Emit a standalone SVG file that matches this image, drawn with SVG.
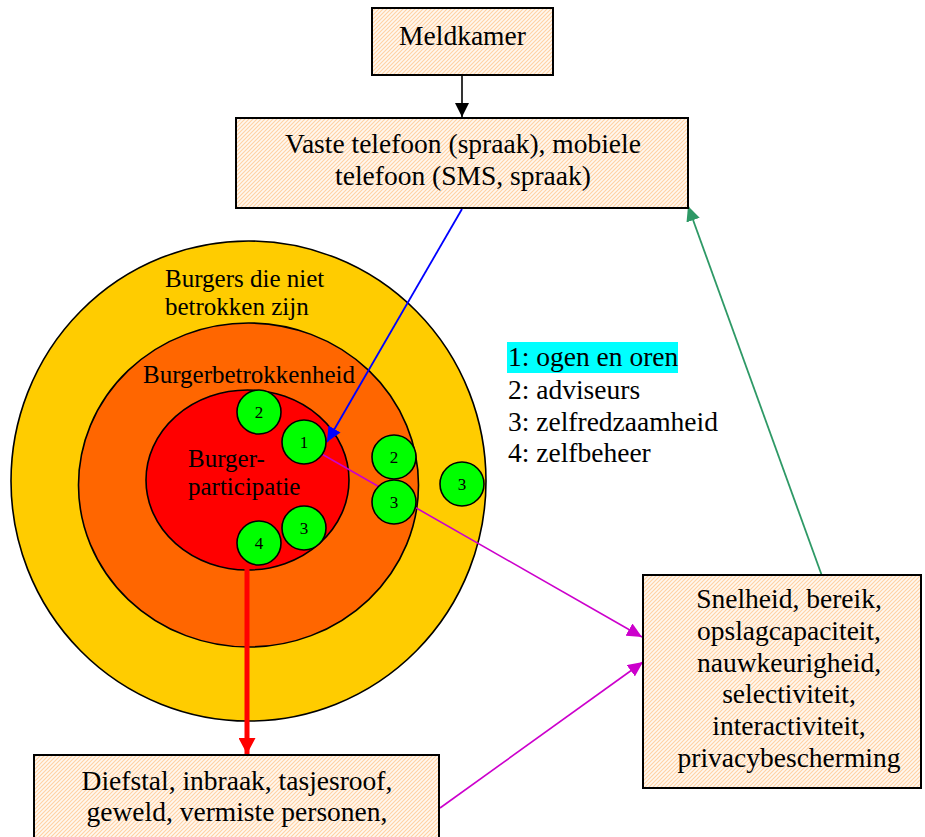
<svg xmlns="http://www.w3.org/2000/svg" width="925" height="837" viewBox="0 0 925 837">
  <style>
    .box { fill: url(#hatch); stroke: #000; stroke-width: 2; }
    .ring { stroke: #000; stroke-width: 1.6; }
    .dot { fill: #00ff00; stroke: #000; stroke-width: 1.6; }
    .t { font-family: "Liberation Serif", "Times New Roman", "DejaVu Serif", serif; fill: #000; }
    .bx { font-size: 27.5px; text-anchor: middle; }
    .lbl { font-size: 25px; }
    .leg { font-size: 27.5px; }
    .num { font-size: 17px; text-anchor: middle; }
    .conn { fill: none; }
  </style>
  <defs>
    <pattern id="hatch" patternUnits="userSpaceOnUse" width="4" height="4">
      <rect width="4" height="4" fill="#fff8f0"/>
      <path d="M-1,1 L1,-1 M0,4 L4,0 M3,5 L5,3" stroke="#ffd1a3" stroke-width="1.1"/>
    </pattern>
    <marker id="ahBlack" markerUnits="userSpaceOnUse" markerWidth="14" markerHeight="14" refX="14" refY="7" orient="auto">
      <path d="M0,0 L14,7 L0,14 z" fill="#000"/>
    </marker>
    <marker id="ahBlue" markerUnits="userSpaceOnUse" markerWidth="15" markerHeight="14" refX="15" refY="7" orient="auto">
      <path d="M0,0 L15,7 L0,14 z" fill="#0000ff"/>
    </marker>
    <marker id="ahGreen" markerUnits="userSpaceOnUse" markerWidth="15" markerHeight="14" refX="15" refY="7" orient="auto">
      <path d="M0,0 L15,7 L0,14 z" fill="#2e9966"/>
    </marker>
    <marker id="ahMagenta" markerUnits="userSpaceOnUse" markerWidth="15" markerHeight="14" refX="15" refY="7" orient="auto">
      <path d="M0,0 L15,7 L0,14 z" fill="#cc00cc"/>
    </marker>
    <marker id="ahRed" markerUnits="userSpaceOnUse" markerWidth="16" markerHeight="17" refX="16" refY="8.5" orient="auto">
      <path d="M0,0 L16,8.5 L0,17 z" fill="#ff0000"/>
    </marker>
  </defs>

  <rect width="925" height="837" fill="#fff"/>

  <!-- concentric zones -->
  <g id="zone-outer">
    <ellipse class="ring" cx="248.5" cy="481" rx="237.5" ry="240" fill="#ffcc00"/>
    <text class="t lbl" x="165" y="287">Burgers die niet</text>
    <text class="t lbl" x="165" y="315">betrokken zijn</text>
  </g>
  <g id="zone-middle">
    <ellipse class="ring" cx="248.5" cy="485" rx="170" ry="162" fill="#ff6600"/>
    <text class="t lbl" x="143" y="383">Burgerbetrokkenheid</text>
  </g>
  <g id="zone-inner">
    <ellipse class="ring" cx="247.5" cy="480" rx="101.5" ry="90" fill="#ff0000"/>
    <text class="t lbl" x="188" y="467">Burger-</text>
    <text class="t lbl" x="188" y="495">participatie</text>
  </g>

  <!-- connectors -->
  <g id="connectors" class="conn">
    <line x1="462" y1="75" x2="462" y2="117" stroke="#000" stroke-width="1.6" marker-end="url(#ahBlack)"/>
    <line x1="462" y1="209" x2="327" y2="442" stroke="#0000ff" stroke-width="1.8" marker-end="url(#ahBlue)"/>
    <line x1="822" y1="576" x2="688" y2="206" stroke="#2e9966" stroke-width="1.8" marker-end="url(#ahGreen)"/>
    <line x1="320" y1="453" x2="642" y2="637" stroke="#cc00cc" stroke-width="1.6" marker-end="url(#ahMagenta)"/>
    <line x1="440" y1="808" x2="643" y2="662" stroke="#cc00cc" stroke-width="1.6" marker-end="url(#ahMagenta)"/>
    <line x1="247" y1="566" x2="247" y2="754" stroke="#ff0000" stroke-width="5" marker-end="url(#ahRed)"/>
  </g>

  <!-- numbered markers -->
  <g id="dot-inner-2"><circle class="dot" cx="259" cy="412" r="22"/><text class="t num" x="259" y="418">2</text></g>
  <g id="dot-inner-1"><circle class="dot" cx="304" cy="442" r="22"/><text class="t num" x="304" y="448">1</text></g>
  <g id="dot-inner-3"><circle class="dot" cx="304" cy="528" r="22"/><text class="t num" x="304" y="534">3</text></g>
  <g id="dot-inner-4"><circle class="dot" cx="259" cy="543" r="22"/><text class="t num" x="259" y="549">4</text></g>
  <g id="dot-mid-2"><circle class="dot" cx="394" cy="457" r="22"/><text class="t num" x="394" y="463">2</text></g>
  <g id="dot-mid-3"><circle class="dot" cx="394" cy="502" r="22"/><text class="t num" x="394" y="508">3</text></g>
  <g id="dot-outer-3"><circle class="dot" cx="462" cy="484" r="22"/><text class="t num" x="462" y="490">3</text></g>

  <!-- boxes -->
  <g id="meldkamer">
    <rect class="box" x="372" y="8" width="181" height="67"/>
    <text class="t bx" x="462.5" y="45">Meldkamer</text>
  </g>
  <g id="telefoon">
    <rect class="box" x="236" y="118" width="452" height="90"/>
    <text class="t bx" x="463" y="153">Vaste telefoon (spraak), mobiele</text>
    <text class="t bx" x="463" y="185">telefoon (SMS, spraak)</text>
  </g>
  <g id="eigenschappen">
    <rect class="box" x="643" y="575" width="278" height="213"/>
    <text class="t bx" x="789" y="608">Snelheid, bereik,</text>
    <text class="t bx" x="789" y="640">opslagcapaciteit,</text>
    <text class="t bx" x="789" y="672">nauwkeurigheid,</text>
    <text class="t bx" x="789" y="703">selectiviteit,</text>
    <text class="t bx" x="789" y="735">interactiviteit,</text>
    <text class="t bx" x="789" y="767">privacybescherming</text>
  </g>
  <g id="incidenten">
    <rect class="box" x="34" y="755" width="405" height="95"/>
    <text class="t bx" x="237" y="790">Diefstal, inbraak, tasjesroof,</text>
    <text class="t bx" x="237" y="821">geweld, vermiste personen,</text>
  </g>

  <!-- legend -->
  <g id="legend">
    <rect x="507" y="342" width="171" height="31" fill="#00ffff"/>
    <text class="t leg" x="508" y="366">1: ogen en oren</text>
    <text class="t leg" x="508" y="399">2: adviseurs</text>
    <text class="t leg" x="508" y="431">3: zelfredzaamheid</text>
    <text class="t leg" x="508" y="462">4: zelfbeheer</text>
  </g>
</svg>
